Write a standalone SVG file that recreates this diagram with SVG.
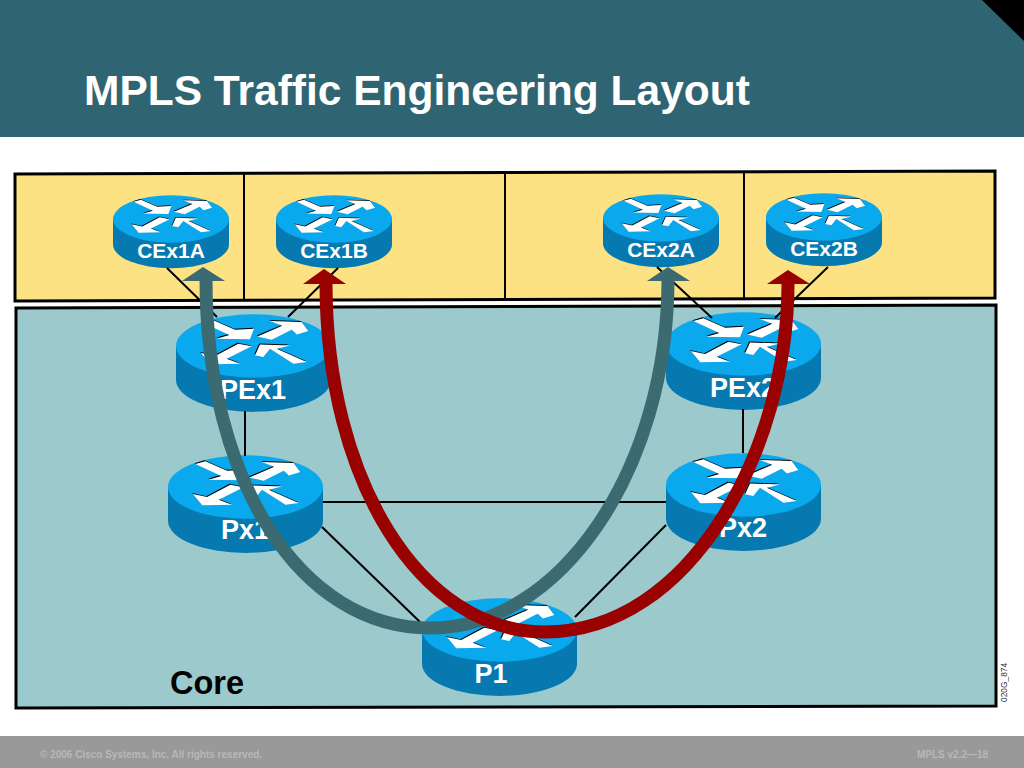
<svg xmlns="http://www.w3.org/2000/svg" xmlns:xlink="http://www.w3.org/1999/xlink" width="1024" height="768" viewBox="0 0 1024 768">
<style>
text{font-family:"Liberation Sans",Arial,sans-serif;font-weight:bold}
.lbl{fill:#fff;text-anchor:middle}
.ce{font-size:21px}
.pe{font-size:27px}
.panel{stroke:#000;stroke-width:3}
.div{stroke:#000;stroke-width:2;fill:none}
.link{stroke:#000;stroke-width:2;fill:none}
.arc{fill:none;stroke-width:13}
.foot{fill:#b8b8b8;font-size:10px}
</style>
<defs>
<g id="arrows">
<polygon points="-32.4,-14.8 -25.9,-16.6 -11.9,-10.5 0.3,-11.2 -2.3,-4.3 -23.8,-4.7 -15.6,-7.1"/>
<polygon points="2.5,-6.2 11.7,-4.1 24.6,-10.5 28,-7.5 35.4,-9.7 31,-15.5 10.6,-16.1 18.5,-13"/>
<polygon points="-1.2,0.2 -9.8,-1.5 -24.8,6.5 -34,4.5 -28,11.8 -8.7,11.4 -17.3,8.2"/>
<polygon points="34.3,10.3 25.8,11.4 10.6,1.7 6.3,7.1 1,6 4.2,-1 23.5,-0.4 15,1.7"/>
</g>
<g id="router">
<path d="M-50,0V22A50,20.5 0 0 0 50,22V0Z" fill="#0679b0"/>
<ellipse cx="0" cy="0" rx="50" ry="20.5" fill="#0aa8ec"/>
<use href="#arrows" x="-0.5" y="-0.6" fill="#000"/>
<use href="#arrows" fill="#fff"/>
</g>
</defs>
<rect width="1024" height="768" fill="#fff"/>
<rect width="1024" height="137" fill="#2f6573"/>
<polygon points="982,0 1024,0 1024,41" fill="#000"/>
<text x="84" y="105" font-size="42.5" fill="#fff">MPLS Traffic Engineering Layout</text>
<polygon class="panel" points="15,174 995,171 995,298 15,301" fill="#fde283"/>
<polygon class="panel" points="16,308 996,305 996,706 16,708" fill="#9cc9cb"/>
<path class="div" d="M244,174V300M505,173V299M744,172V298"/>
<text x="170" y="694" font-size="32.5" fill="#000">Core</text>
<text transform="translate(1007,702) rotate(-90)" font-size="8.4" fill="#333" style="font-weight:normal">020G_874</text>
<rect y="736" width="1024" height="32" fill="#999"/>
<text class="foot" x="40" y="758">© 2006 Cisco Systems, Inc. All rights reserved.</text>
<text class="foot" x="917" y="758">MPLS v2.2—18</text>
<g id="node-CEx1A"><use href="#router" transform="translate(171,219) scale(1.16)"/><text class="lbl ce" x="171" y="258">CEx1A</text></g>
<g id="node-CEx1B"><use href="#router" transform="translate(334,219) scale(1.16)"/><text class="lbl ce" x="334" y="258">CEx1B</text></g>
<g id="node-CEx2A"><use href="#router" transform="translate(661,218) scale(1.16)"/><text class="lbl ce" x="661" y="257">CEx2A</text></g>
<g id="node-CEx2B"><use href="#router" transform="translate(824,217) scale(1.16)"/><text class="lbl ce" x="824" y="256">CEx2B</text></g>
<g id="node-PEx1"><use href="#router" transform="translate(253.5,346) scale(1.55)"/><text class="lbl pe" x="253" y="399">PEx1</text></g>
<g id="node-PEx2"><use href="#router" transform="translate(743.5,344) scale(1.55)"/><text class="lbl pe" x="743" y="397">PEx2</text></g>
<g id="node-Px1"><use href="#router" transform="translate(245.5,487) scale(1.55)"/><text class="lbl pe" x="245" y="539">Px1</text></g>
<g id="node-Px2"><use href="#router" transform="translate(743.5,485) scale(1.55)"/><text class="lbl pe" x="743" y="537">Px2</text></g>
<g id="node-P1"><use href="#router" transform="translate(499.5,630) scale(1.55)"/><text class="lbl pe" x="491" y="683">P1</text></g>
<g id="connectors">
<path class="link" d="M167,268L217,317M338,268L288,317M657,267L712,318M828,267L775,318M245,411V456M743,409V453M323,502H666M322,527L420,622M575,617L666,525"/>
<path class="arc" stroke="#3b6b70" d="M206,279C206,480 300,628 430,628C560,628 668,470 668,279"/>
<polygon fill="#3b6b70" points="203,267 182,281 225,281"/>
<polygon fill="#3b6b70" points="668,267 647,281 690,281"/>
<path class="arc" stroke="#990000" d="M326,283C326,480 420,632 545,632C690,632 788,450 788,283"/>
<polygon fill="#990000" points="324,269 303,284 346,284"/>
<polygon fill="#990000" points="788,270 767,284 810,284"/>
</g>
</svg>
